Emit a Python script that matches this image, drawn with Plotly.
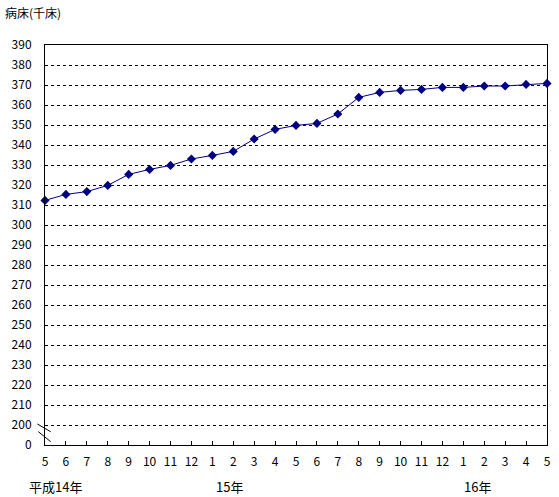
import plotly.graph_objects as go

months = ["5","6","7","8","9","10","11","12","1","2","3","4",
          "5","6","7","8","9","10","11","12","1","2","3","4","5"]
beds = [312.3, 315.3, 316.7, 319.8, 325.3, 327.8, 329.8, 333.0, 334.8, 336.8,
        343.0, 347.8, 349.8, 350.8, 355.5, 363.8, 366.3, 367.3, 367.8, 368.8,
        368.8, 369.5, 369.5, 370.3, 370.8]
ytick_vals = [190] + list(range(200, 391, 10))
ytick_text = ["0"] + [str(v) for v in range(200, 391, 10)]
year_labels = [("平成14年", 0.5), ("15年", 8.8), ("16年", 20.7)]

FONT = "MS PGothic, Noto Sans CJK JP, sans-serif"
NAVY = "#000080"

x = list(range(len(beds)))

fig = go.Figure()
fig.add_trace(go.Scatter(
    x=x, y=beds, mode="lines+markers",
    line=dict(color=NAVY, width=1),
    marker=dict(symbol="diamond", size=7, color=NAVY),
    cliponaxis=False, showlegend=False,
))

fig.update_layout(
    width=559, height=497,
    margin=dict(l=45, r=8, t=45, b=52),
    paper_bgcolor="white", plot_bgcolor="white",
    font=dict(family=FONT, size=12, color="black"),
    xaxis=dict(
        range=[0, 24], tickmode="array", tickvals=x, ticktext=months,
        ticks="inside", ticklen=4, tickcolor="black", tickwidth=1,
        showline=True, linecolor="black", linewidth=1, mirror=True,
        showgrid=False, zeroline=False, ticklabelstandoff=6,
    ),
    yaxis=dict(
        range=[190, 390], tickmode="array", tickvals=ytick_vals, ticktext=ytick_text,
        ticks="", showline=True, linecolor="black", linewidth=1, mirror=True,
        showgrid=True, gridcolor="black", griddash="3px,3px", gridwidth=1,
        zeroline=False, ticklabelstandoff=10,
    ),
)

# axis break marks (paper coordinates so they are not clipped)
for (x0, y0, x1, y1) in [(-0.0152, 0.0525, 0.0113, 0.0333),
                         (-0.0132, 0.0333, 0.0113, 0.0083)]:
    fig.add_shape(type="line", xref="paper", yref="paper", x0=x0, y0=y0, x1=x1, y1=y1,
                  line=dict(color="black", width=1), layer="above")

fig.add_annotation(text="病床(千床)", xref="paper", yref="paper", x=0, y=1,
                   xshift=-42, yshift=33, xanchor="left", yanchor="middle",
                   showarrow=False, font=dict(size=12))

for label, pos in year_labels:
    fig.add_annotation(text=label, xref="x", yref="paper", x=pos, y=0,
                       yshift=-41, xanchor="center", yanchor="middle",
                       showarrow=False, font=dict(size=13))

fig.write_html("out.html", config={"displayModeBar": False},
               post_script="document.body.style.margin='0';document.body.style.overflow='hidden';")
